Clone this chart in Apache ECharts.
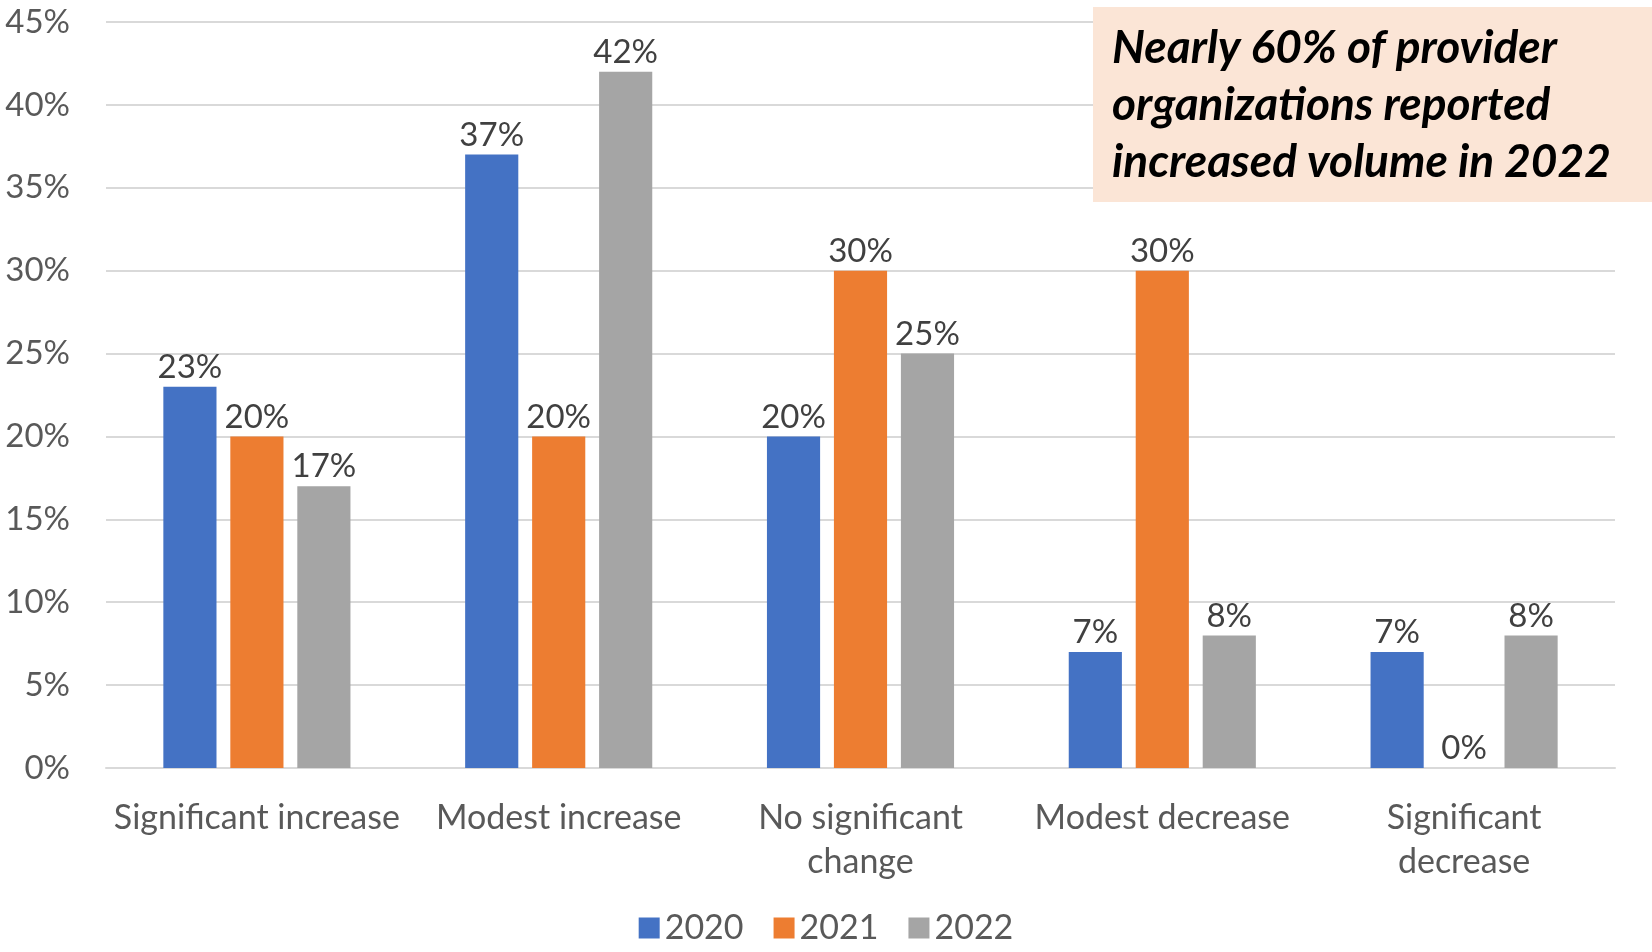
<!DOCTYPE html>
<html>
<head>
<meta charset="utf-8">
<script src="https://cdn.jsdelivr.net/npm/echarts@6/dist/echarts.min.js"></script>
<style>
  html, body { margin: 0; padding: 0; background: #ffffff; }
  #chart { width: 1652px; height: 952px; }
</style>
</head>
<body>
<div id="chart"></div>
<script>
// Change in volume reported by provider organizations, by year
const categories = [
  'Significant increase',
  'Modest increase',
  'No significant\nchange',
  'Modest decrease',
  'Significant\ndecrease'
];
const years = ['2020', '2021', '2022'];
const values2020 = [23, 37, 20, 7, 7];
const values2021 = [20, 20, 30, 30, 0];
const values2022 = [17, 42, 25, 8, 8];
const yearColors = ['#4472C4', '#ED7D31', '#A5A5A5'];
const calloutText = 'Nearly 60% of provider\norganizations reported\nincreased volume in 2022';

const FONT = 'Lato, "Open Sans", sans-serif';
const seriesValues = [values2020, values2021, values2022];

const chart = echarts.init(document.getElementById('chart'));

chart.setOption({
  animation: false,
  backgroundColor: '#ffffff',
  textStyle: { fontFamily: FONT },
  grid: { left: 106, right: 37, top: 22, bottom: 184, containLabel: false },
  legend: {
    data: years,
    bottom: 2,
    left: 'center',
    itemWidth: 21,
    itemHeight: 21,
    itemGap: 30,
    icon: 'rect',
    textStyle: { fontFamily: FONT, fontSize: 34, color: '#595959' }
  },
  xAxis: {
    type: 'category',
    data: categories,
    axisLine: { lineStyle: { color: '#D9D9D9', width: 2 } },
    axisTick: { show: false },
    axisLabel: {
      fontFamily: FONT,
      fontSize: 34,
      color: '#595959',
      margin: 28,
      lineHeight: 44,
      interval: 0
    }
  },
  yAxis: {
    type: 'value',
    min: 0,
    max: 45,
    interval: 5,
    axisLine: { show: false },
    axisTick: { show: false },
    splitLine: { lineStyle: { color: '#D9D9D9', width: 2 } },
    axisLabel: {
      fontFamily: FONT,
      fontSize: 33,
      color: '#595959',
      margin: 36,
      formatter: '{value}%'
    }
  },
  series: years.map((name, i) => ({
    name: name,
    type: 'bar',
    data: seriesValues[i],
    barGap: '26%',
    barCategoryGap: '38%',
    itemStyle: { color: yearColors[i] },
    label: {
      show: true,
      position: 'top',
      distance: 3,
      fontFamily: FONT,
      fontSize: 33,
      color: '#404040',
      formatter: '{c}%'
    }
  })),
  graphic: [
    {
      type: 'rect',
      left: 1093,
      top: 7,
      shape: { width: 559, height: 195 },
      style: { fill: '#FBE5D6' },
      z: 10
    },
    {
      type: 'text',
      left: 1112,
      top: 20,
      style: {
        text: calloutText,
        fontFamily: FONT,
        fontSize: 46,
        fontWeight: 'bold',
        fontStyle: 'italic',
        fill: '#000000',
        lineHeight: 57
      },
      z: 11
    }
  ]
});
</script>
</body>
</html>
